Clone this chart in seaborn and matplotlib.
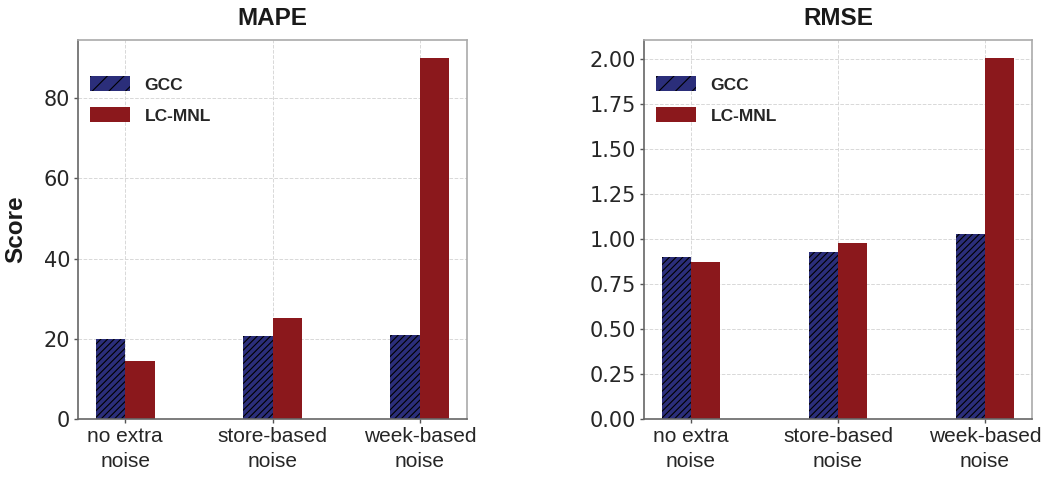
import pandas as pd
import numpy as np
import matplotlib.pyplot as plt
import seaborn as sns
from matplotlib.patches import Patch

sns.set_style("whitegrid")
plt.rcParams['font.family'] = ['DejaVu Sans']
plt.rcParams['font.sans-serif'] = ['DejaVu Sans']
plt.rcParams['hatch.linewidth'] = 0.8

# data
settings = ["no extra\nnoise", "store-based\nnoise", "week-based\nnoise"]
models = ["GCC", "LC-MNL"]
mape_gcc = [20.0, 20.8, 21.0]
mape_lcmnl = [14.5, 25.2, 90.0]
rmse_gcc = [0.90, 0.925, 1.025]
rmse_lcmnl = [0.873, 0.98, 2.005]

color_gcc = '#2B2E7A'
color_lc = '#8B181C'
bold_font = 'Liberation Sans'

df = pd.DataFrame({
    'setting': settings * 2,
    'model': [models[0]] * 3 + [models[1]] * 3,
    'MAPE': mape_gcc + mape_lcmnl,
    'RMSE': rmse_gcc + rmse_lcmnl,
})

fig = plt.figure(figsize=(10.59, 4.82), dpi=100)
ax1 = fig.add_axes([78 / 1059, 63 / 482, 389 / 1059, 379 / 482])
ax2 = fig.add_axes([644 / 1059, 63 / 482, 388 / 1059, 379 / 482])

for ax, metric in [(ax1, 'MAPE'), (ax2, 'RMSE')]:
    sns.barplot(data=df, x='setting', y=metric, hue='model', palette=[color_gcc, color_lc],
                width=0.4, saturation=1, ax=ax, legend=False)
    for bar in ax.containers[0]:
        bar.set_hatch('/////')
        bar.set_edgecolor('black')
        bar.set_linewidth(0)
    for bar in ax.containers[1]:
        bar.set_linewidth(0)
    ax.set_xlim(-0.32, 2.32)
    ax.set_ylim(0, None)
    ax.set_title(metric, fontsize=17.5, fontweight='bold', family=bold_font, pad=11, color='#1a1a1a')
    ax.set_xlabel('')
    ax.set_ylabel('')
    ax.grid(True, color='#d8d8d8', linestyle='--', linewidth=0.7)
    ax.set_axisbelow(True)
    ax.tick_params(axis='both', length=3, width=1, pad=2.5, color='#555555', labelcolor='#262626',
                   left=True, bottom=True)
    for side in ['left', 'bottom']:
        ax.spines[side].set_color('#666666')
        ax.spines[side].set_linewidth(1.2)
    for side in ['top', 'right']:
        ax.spines[side].set_color('#aaaaaa')
        ax.spines[side].set_linewidth(1.2)

    handles = [
        Patch(facecolor=color_gcc, edgecolor='black', linewidth=0, hatch='//', label='GCC'),
        Patch(facecolor=color_lc, edgecolor='none', label='LC-MNL'),
    ]
    ax.legend(handles=handles, loc='upper left', bbox_to_anchor=(-0.01, 0.945), frameon=False,
              prop={'family': bold_font, 'weight': 'bold', 'size': 12.5},
              handlelength=2.3, handleheight=0.9, labelspacing=0.85, handletextpad=0.85)

ax2.set_yticks(np.arange(0, 2.01, 0.25))
ax2.set_yticklabels([f"{v:.2f}" for v in np.arange(0, 2.01, 0.25)])
ax1.set_yticks([0, 20, 40, 60, 80])
ax1.set_yticklabels(['0', '20', '40', '60', '80'])

for ax in [ax1, ax2]:
    for lab in ax.get_yticklabels():
        lab.set_family('DejaVu Sans')
        lab.set_fontsize(15)
    for lab in ax.get_xticklabels():
        lab.set_family('Liberation Sans')
        lab.set_fontsize(15)
        lab.set_linespacing(1.45)

ax1.set_ylabel('Score', fontsize=17.5, fontweight='bold', family=bold_font, color='#1a1a1a', labelpad=12)

plt.savefig('out.png', dpi=100)
